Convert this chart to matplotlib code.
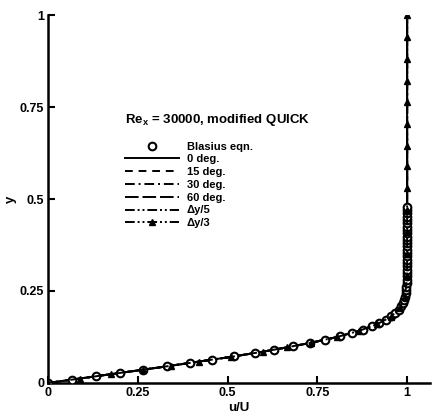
import matplotlib
matplotlib.use("Agg")
import matplotlib.pyplot as plt

plt.rcParams["font.family"] = ["Liberation Sans", "DejaVu Sans"]
plt.rcParams["font.weight"] = "bold"
plt.rcParams["mathtext.fontset"] = "custom"
plt.rcParams["mathtext.rm"] = "Liberation Sans:bold"
plt.rcParams["mathtext.it"] = "Liberation Sans:bold"
plt.rcParams["mathtext.bf"] = "Liberation Sans:bold"

# Blasius solution (open circles)
y_blasius = [0, 0.009, 0.018, 0.027, 0.036, 0.045, 0.054, 0.063, 0.072, 0.081,
             0.090, 0.100, 0.109, 0.118, 0.127, 0.136, 0.145, 0.154, 0.163, 0.172,
             0.181, 0.190, 0.199, 0.208, 0.217, 0.226, 0.235, 0.244, 0.253, 0.262,
             0.271, 0.280, 0.290, 0.299, 0.308, 0.317, 0.326, 0.335, 0.344, 0.353,
             0.362, 0.371, 0.380, 0.389, 0.398, 0.407, 0.416, 0.425, 0.434, 0.443,
             0.452, 0.461, 0.470, 0.479]
u_blasius = [0, 0.066, 0.133, 0.199, 0.265, 0.330, 0.394, 0.456, 0.517, 0.575,
             0.630, 0.681, 0.729, 0.772, 0.812, 0.846, 0.876, 0.902, 0.923, 0.941,
             0.956, 0.967, 0.976, 0.983, 0.988, 0.992, 0.994, 0.996, 0.997, 0.998,
             0.999, 0.999, 1.0, 1.0, 1.0, 1.0, 1.0, 1.0, 1.0, 1.0,
             1.0, 1.0, 1.0, 1.0, 1.0, 1.0, 1.0, 1.0, 1.0, 1.0,
             1.0, 1.0, 1.0, 1.0]

# computed profiles (all overlap)
y_cfd = [0, 0.012, 0.024, 0.036, 0.047, 0.058, 0.071, 0.085, 0.097, 0.109,
         0.125, 0.142, 0.160, 0.180, 0.205, 0.235, 0.290, 0.350, 0.410, 0.470,
         0.530, 0.590, 0.645, 0.705, 0.765, 0.820, 0.880, 0.940, 1.0]
u_cfd = [0, 0.088, 0.176, 0.264, 0.343, 0.419, 0.510, 0.598, 0.666, 0.731,
         0.805, 0.867, 0.917, 0.955, 0.981, 0.994, 1.0, 1.0, 1.0, 1.0,
         1.0, 1.0, 1.0, 1.0, 1.0, 1.0, 1.0, 1.0, 1.0]

cases = ["0 deg.", "15 deg.", "30 deg.", "60 deg.", "\u0394y/5", "\u0394y/3"]
styles = ["-", (0, (4, 3)), (0, (5, 2, 1, 2)), (0, (7, 2)),
          (0, (5, 1.5, 1, 1.5, 1, 1.5)), (0, (5, 1.5, 1, 1.5, 1, 1.5))]

fig = plt.figure(figsize=(4.34, 4.19), dpi=100)
ax = fig.add_axes([0.111, 0.086, 0.88, 0.878])

ax.plot(u_blasius, y_blasius, "o", mfc="white", mec="black", ms=5.5, mew=1.5,
        ls="none", label="Blasius eqn.", zorder=3)
for name, st in zip(cases, styles):
    if name == "\u0394y/3":
        ax.plot(u_cfd, y_cfd, color="black", ls=st, lw=1.4, marker="^", ms=4.5,
                label=name, zorder=4)
    else:
        ax.plot(u_cfd, y_cfd, color="black", ls=st, lw=1.4, label=name)

ax.set_xlim(0, 1.064)
ax.set_ylim(0, 1.0)
ax.set_xticks([0, 0.25, 0.5, 0.75, 1])
ax.set_xticklabels(["0", "0.25", "0.5", "0.75", "1"])
ax.set_yticks([0, 0.25, 0.5, 0.75, 1])
ax.set_yticklabels(["0", "0.25", "0.5", "0.75", "1"])
ax.tick_params(direction="in", length=5, width=1.5, labelsize=9, pad=3)
for side in ["top", "right"]:
    ax.spines[side].set_visible(False)
for side in ["left", "bottom"]:
    ax.spines[side].set_linewidth(1.8)
ax.patch.set_visible(False)

ax.set_xlabel("u/U", fontsize=9.5, fontweight="bold", labelpad=2)
ax.set_ylabel("y", fontsize=9.5, fontweight="bold", labelpad=2)

fig.text(125 / 434, 1 - 120 / 419, r"Re$_{\mathrm{x}}$ = 30000, modified QUICK",
         fontsize=9.5, fontweight="bold", va="center", ha="left")

leg = ax.legend(loc="upper left", bbox_to_anchor=(119 / 434, 1 - 136 / 419),
                bbox_transform=fig.transFigure, frameon=False,
                fontsize=8, handlelength=4.9, handletextpad=0.7,
                labelspacing=0.25, borderpad=0)

fig.savefig("out.png", dpi=100)
